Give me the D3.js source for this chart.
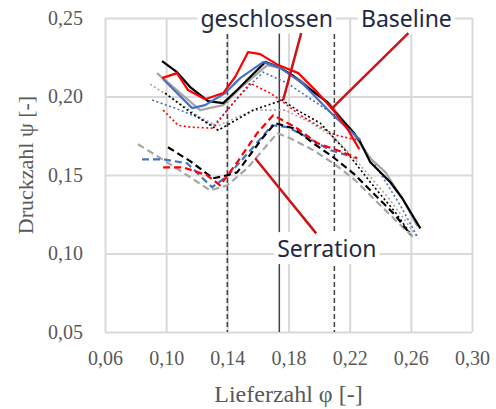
<!DOCTYPE html>
<html lang="de">
<head>
    <meta charset="UTF-8">
    <title>Druckzahl über Lieferzahl</title>
    <style>
        body {
            margin: 0;
            background: #fff;
        }
        .grid line {
            stroke: #d9d9d9;
            stroke-width: 2;
        }
        .grid text {
            font-family: "Liberation Serif", "Times New Roman", serif;
            font-size: 20px;
            fill: #595959;
        }
        .axis-title {
            font-family: "Liberation Serif", "Times New Roman", serif;
            fill: #595959;
        }
        .label {
            font-family: "Noto Sans", sans-serif;
            font-size: 23px;
            fill: #1e2a45;
        }
    </style>
</head>
<body>
    <svg width="496" height="409"></svg>

    <script src="https://d3js.org/d3.v7.min.js"></script>
    <script>
        // Achsen
        const phiTicks = [0.06, 0.10, 0.14, 0.18, 0.22, 0.26, 0.30];
        const psiTicks = [0.05, 0.10, 0.15, 0.20, 0.25];

        // senkrechte Hilfslinien (phi)
        const refDashed = [0.14, 0.21];
        const refSolid = [0.174];

        // Baseline (durchgezogen) [phi, psi]
        const baseGrey = [[0.0940,0.2149],[0.1222,0.1913],[0.1373,0.1945],[0.1484,0.2053],[0.1661,0.2200],[0.1746,0.2181],[0.1877,0.2104],[0.2073,0.1951],[0.2217,0.1773],[0.2335,0.1607],[0.2433,0.1518],[0.2551,0.1339],[0.2643,0.1173]];
        const baseBlack = [[0.0973,0.2226],[0.1071,0.2155],[0.1157,0.2060],[0.1274,0.1970],[0.1373,0.1958],[0.1464,0.2041],[0.1549,0.2124],[0.1648,0.2219],[0.1739,0.2187],[0.1824,0.2136],[0.1922,0.2060],[0.2053,0.1964],[0.2106,0.1900],[0.2224,0.1773],[0.2270,0.1709],[0.2335,0.1581],[0.2466,0.1454],[0.2544,0.1352],[0.2662,0.1160]];
        const baseBlue = [[0.0980,0.2111],[0.1170,0.1926],[0.1255,0.1945],[0.1386,0.2022],[0.1484,0.2117],[0.1634,0.2219],[0.1739,0.2187],[0.1890,0.2085],[0.2093,0.1881],[0.2270,0.1722]];
        const baseRed = [[0.0973,0.2117],[0.1071,0.2149],[0.1143,0.2041],[0.1255,0.1983],[0.1373,0.2022],[0.1451,0.2124],[0.1536,0.2283],[0.1615,0.2270],[0.1733,0.2200],[0.1864,0.2149],[0.1975,0.2041],[0.2093,0.1913],[0.2191,0.1785],[0.2263,0.1664]];

        // geschlossen (gepunktet)
        const closedGrey = [[0.0895,0.2079],[0.1058,0.1977],[0.1222,0.1868],[0.1333,0.1811],[0.1451,0.1862],[0.1569,0.1913],[0.1778,0.1913],[0.1942,0.1836],[0.2106,0.1734],[0.2270,0.1562],[0.2466,0.1339],[0.2643,0.1103]];
        const closedBlack = [[0.0993,0.2022],[0.1157,0.1900],[0.1340,0.1785],[0.1569,0.1913],[0.1759,0.1977],[0.1857,0.1913],[0.2008,0.1830],[0.2171,0.1658],[0.2335,0.1454],[0.2499,0.1262],[0.2610,0.1109]];
        const closedBlue = [[0.0908,0.1977],[0.1058,0.1926],[0.1222,0.1862],[0.1307,0.1811],[0.1484,0.2009],[0.1634,0.2155],[0.1792,0.2085],[0.2073,0.1900],[0.2204,0.1798],[0.2368,0.1562],[0.2531,0.1307],[0.2649,0.1096]];
        const closedRed = [[0.0980,0.1913],[0.1078,0.1817],[0.1157,0.1805],[0.1307,0.1798],[0.1399,0.1913],[0.1549,0.2085],[0.1680,0.2022],[0.1765,0.1964],[0.1877,0.1881],[0.1988,0.1817],[0.2106,0.1754],[0.2250,0.1722]];

        // Serration (gestrichelt)
        const serrGrey = [[0.0816,0.1696],[0.1058,0.1549],[0.1287,0.1402],[0.1399,0.1434],[0.1530,0.1543],[0.1726,0.1766],[0.1811,0.1734],[0.1962,0.1658],[0.2093,0.1575],[0.2237,0.1466],[0.2400,0.1307],[0.2616,0.1103]];
        const serrBlack = [[0.1012,0.1677],[0.1157,0.1588],[0.1307,0.1479],[0.1399,0.1498],[0.1464,0.1517],[0.1634,0.1741],[0.1713,0.1830],[0.1831,0.1798],[0.1962,0.1703],[0.2093,0.1613],[0.2224,0.1511],[0.2368,0.1371],[0.2499,0.1243],[0.2597,0.1122]];
        const serrBlue = [[0.0842,0.1600],[0.0980,0.1600],[0.1137,0.1575],[0.1300,0.1422],[0.1399,0.1492],[0.1569,0.1677],[0.1693,0.1817],[0.1792,0.1805],[0.1896,0.1754],[0.2073,0.1658],[0.2184,0.1626]];
        const serrRed = [[0.0980,0.1549],[0.1111,0.1549],[0.1268,0.1498],[0.1353,0.1434],[0.1464,0.1581],[0.1595,0.1766],[0.1700,0.1881],[0.1844,0.1805],[0.1988,0.1703],[0.2119,0.1658],[0.2250,0.1607]];

        // Beschriftungen: Text, Position (phi, psi), Zeiger von -> nach
        const labelNames = ["geschlossen", "Baseline", "Serration"];
        const labelPos = [[0.1657, 0.2445], [0.2571, 0.2445], [0.2051, 0.0977]];
        const pointers = [
            [[0.1883, 0.2404], [0.1765, 0.1977]],
            [[0.2584, 0.2404], [0.2086, 0.1926]],
            [[0.1582, 0.1607], [0.1981, 0.1128]]
        ];

        const width = 496;
        const height = 409;
        const margin = {top: 18, right: 24, bottom: 77, left: 105};
        const w = width - margin.left - margin.right;
        const h = height - margin.top - margin.bottom;

        const svg = d3.select("svg");
        const g = svg.append("g")
            .attr("transform", `translate(${margin.left},${margin.top})`);

        const x = d3.scaleLinear().domain([0.06, 0.30]).range([0, w]);
        const y = d3.scaleLinear().domain([0.05, 0.25]).range([h, 0]);

        const fmt = d => d3.format(".2f")(d).replace(".", ",");

        // Gitter + Achsbeschriftung
        g.append("g")
            .attr("class", "grid")
            .attr("transform", `translate(0,${h})`)
            .call(d3.axisBottom(x).tickValues(phiTicks).tickFormat(fmt)
                .tickSizeInner(-h).tickSizeOuter(0).tickPadding(19))
            .call(a => a.select(".domain").remove());

        g.append("g")
            .attr("class", "grid")
            .call(d3.axisLeft(y).tickValues(psiTicks).tickFormat(fmt)
                .tickSizeInner(-w).tickSizeOuter(0).tickPadding(22))
            .call(a => a.select(".domain").remove());

        // Hilfslinien
        g.selectAll(".ref-dash")
            .data(refDashed)
            .enter().append("line")
            .attr("x1", d => x(d)).attr("x2", d => x(d))
            .attr("y1", 0).attr("y2", h)
            .attr("stroke", "#404040")
            .attr("stroke-width", 1.5)
            .attr("stroke-dasharray", "5,3");

        g.selectAll(".ref-solid")
            .data(refSolid)
            .enter().append("line")
            .attr("x1", d => x(d)).attr("x2", d => x(d))
            .attr("y1", 0).attr("y2", h)
            .attr("stroke", "#404040")
            .attr("stroke-width", 1.5);

        // Kurven
        const grey = "#a6a6a6", black = "#000000", blue = "#4472c4", red = "#ff0000";
        const dot = "2,2.5", dash = "7,4";
        const series = [
            {data: closedGrey, color: grey, dash: dot, sw: 1.6},
            {data: closedBlue, color: blue, dash: dot, sw: 1.6},
            {data: closedBlack, color: black, dash: dot, sw: 1.6},
            {data: closedRed, color: red, dash: dot, sw: 1.6},
            {data: serrGrey, color: grey, dash: dash, sw: 2.2},
            {data: serrBlue, color: blue, dash: dash, sw: 2.2},
            {data: serrBlack, color: black, dash: dash, sw: 2.2},
            {data: serrRed, color: red, dash: dash, sw: 2.2},
            {data: baseGrey, color: grey, dash: null, sw: 2.2},
            {data: baseBlack, color: black, dash: null, sw: 2.2},
            {data: baseBlue, color: blue, dash: null, sw: 2.2},
            {data: baseRed, color: red, dash: null, sw: 2.2}
        ];

        const line = d3.line().x(d => x(d[0])).y(d => y(d[1]));

        g.append("g")
            .selectAll("path")
            .data(series)
            .enter().append("path")
            .attr("d", d => line(d.data))
            .attr("fill", "none")
            .attr("stroke", d => d.color)
            .attr("stroke-width", d => d.sw)
            .attr("stroke-dasharray", d => d.dash)
            .attr("stroke-linejoin", "round");

        // Beschriftungen mit weißem Hintergrund
        labelNames.forEach((name, i) => {
            const lg = g.append("g");
            const rect = lg.append("rect").attr("fill", "#fff");
            const t = lg.append("text")
                .attr("class", "label")
                .attr("x", x(labelPos[i][0]))
                .attr("y", y(labelPos[i][1]))
                .attr("text-anchor", "middle")
                .text(name);
            const bb = t.node().getBBox();
            rect.attr("x", bb.x - 3).attr("y", bb.y)
                .attr("width", bb.width + 6).attr("height", bb.height);
        });

        g.selectAll(".pointer")
            .data(pointers)
            .enter().append("line")
            .attr("x1", d => x(d[0][0])).attr("y1", d => y(d[0][1]))
            .attr("x2", d => x(d[1][0])).attr("y2", d => y(d[1][1]))
            .attr("stroke", "#cc1418")
            .attr("stroke-width", 2.5);

        // Achsentitel
        svg.append("text")
            .attr("class", "axis-title")
            .attr("x", margin.left + w / 2)
            .attr("y", 402)
            .attr("text-anchor", "middle")
            .attr("font-size", 24)
            .text("Lieferzahl φ [-]");

        svg.append("text")
            .attr("class", "axis-title")
            .attr("transform", "translate(33,165) rotate(-90)")
            .attr("text-anchor", "middle")
            .attr("font-size", 22)
            .text("Druckzahl ψ [-]");
    </script>
</body>
</html>
